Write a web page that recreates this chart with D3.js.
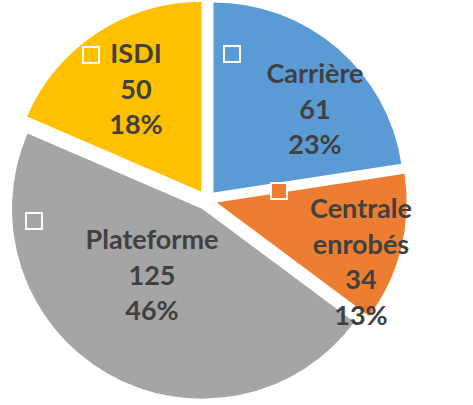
<!DOCTYPE html>
<html>
<head>
<meta charset="utf-8">
<script src="https://cdn.jsdelivr.net/npm/d3@7"></script>
<style>
  body { margin: 0; background: #fff; }
  text { font-family: Lato, "Open Sans", sans-serif; font-weight: 700; fill: #404040; }
</style>
</head>
<body>
<div id="chart"></div>
<script>
// data
var categories = ["Carrière", "Centrale enrobés", "Plateforme", "ISDI"];
var values = [61, 34, 125, 50];
var percents = [23, 13, 46, 18];
var colors = ["#5B9BD5", "#ED7D31", "#A5A5A5", "#FFC000"];

// label layout (label block anchor and the little legend key square)
var labelPos = [[315, 83], [361, 218], [152, 249], [136, 63]];
var keyPos = [[224, 46], [271, 183], [26, 213], [83, 47]];

var width = 473, height = 405;
var cx = 207, cy = 200, radius = 190, explode = 10;

var svg = d3.select("#chart").append("svg")
  .attr("width", width)
  .attr("height", height);

var pie = d3.pie().sort(null).value(function(d) { return d; });
var arcs = pie(values);
var arc = d3.arc().innerRadius(0).outerRadius(radius);

var g = svg.append("g").attr("transform", "translate(" + cx + "," + cy + ")");

// slices pulled out along their bisector
g.selectAll("path")
  .data(arcs)
  .enter().append("path")
  .attr("d", arc)
  .attr("fill", function(d, i) { return colors[i]; })
  .attr("transform", function(d) {
    var a = (d.startAngle + d.endAngle) / 2;
    return "translate(" + (Math.sin(a) * explode) + "," + (-Math.cos(a) * explode) + ")";
  });

// legend key squares
svg.selectAll("rect.key")
  .data(arcs)
  .enter().append("rect")
  .attr("class", "key")
  .attr("x", function(d, i) { return keyPos[i][0]; })
  .attr("y", function(d, i) { return keyPos[i][1]; })
  .attr("width", 16)
  .attr("height", 16)
  .attr("fill", function(d, i) { return colors[i]; })
  .attr("stroke", "#fff")
  .attr("stroke-width", 2);

// data labels: name, value, percent
var lineH = 35.5;
var labels = svg.selectAll("text.lbl")
  .data(arcs)
  .enter().append("text")
  .attr("class", "lbl")
  .attr("text-anchor", "middle")
  .style("font-size", "27px");

labels.each(function(d, i) {
  var t = d3.select(this);
  var lines = categories[i].split(" ");
  lines.push(String(values[i]));
  lines.push(percents[i] + "%");
  lines.forEach(function(s, k) {
    t.append("tspan")
      .attr("x", labelPos[i][0])
      .attr("y", labelPos[i][1] + k * lineH)
      .text(s);
  });
});
</script>
</body>
</html>
